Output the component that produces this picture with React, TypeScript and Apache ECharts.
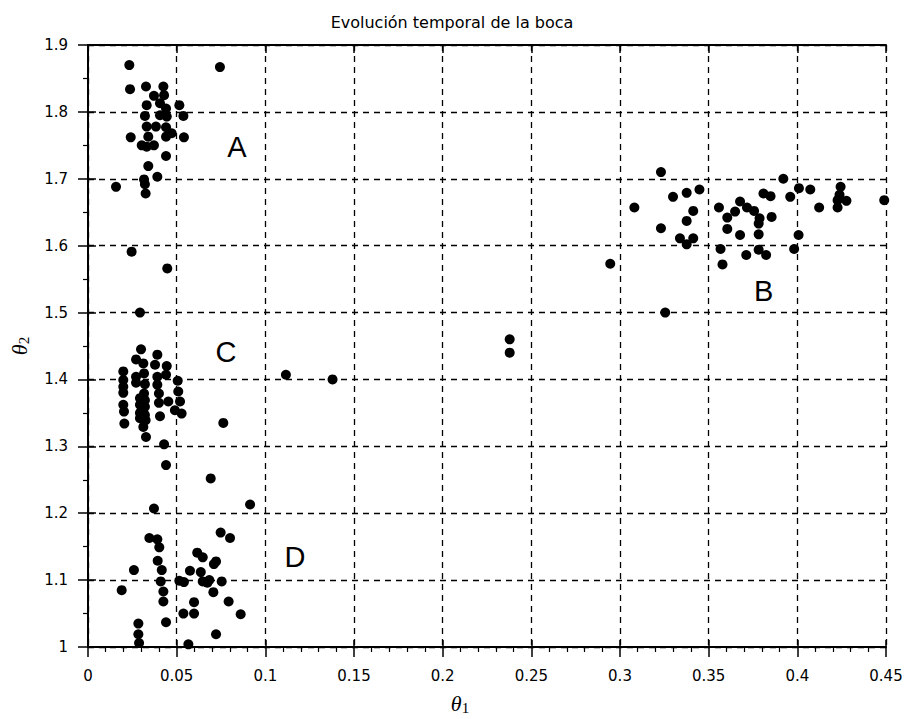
import React, { useEffect, useRef } from "react";
import * as echarts from "echarts";

const titleText = "Evolución temporal de la boca";
const xTicks = [0, 0.05, 0.1, 0.15, 0.2, 0.25, 0.3, 0.35, 0.4, 0.45];
const yTicks = [1, 1.1, 1.2, 1.3, 1.4, 1.5, 1.6, 1.7, 1.8, 1.9];

const clusterA: [number, number][] = [
  [0.0233, 1.870], [0.0744, 1.867], [0.0237, 1.834], [0.0327, 1.838], [0.0425, 1.838],
  [0.0372, 1.824], [0.0429, 1.825], [0.0331, 1.810], [0.0406, 1.813], [0.044, 1.805],
  [0.0515, 1.810], [0.0321, 1.794], [0.0406, 1.795], [0.0444, 1.793], [0.0538, 1.794],
  [0.0331, 1.778], [0.0383, 1.778], [0.044, 1.777], [0.0241, 1.762], [0.034, 1.763],
  [0.044, 1.763], [0.0472, 1.768], [0.0541, 1.762], [0.0303, 1.750], [0.0331, 1.748],
  [0.0372, 1.750], [0.044, 1.734], [0.034, 1.719], [0.0316, 1.699], [0.0391, 1.703],
  [0.0158, 1.688], [0.0321, 1.692], [0.0325, 1.678],
];

const clusterB: [number, number][] = [
  [0.3231, 1.710], [0.3921, 1.700], [0.3299, 1.673], [0.3376, 1.679], [0.3448, 1.684],
  [0.3081, 1.657], [0.3413, 1.652], [0.3376, 1.637], [0.3231, 1.626], [0.3338, 1.611],
  [0.3413, 1.611], [0.3376, 1.602], [0.3558, 1.657], [0.3677, 1.666], [0.3649, 1.651],
  [0.3605, 1.642], [0.3716, 1.657], [0.3756, 1.652], [0.3787, 1.641], [0.3782, 1.633],
  [0.3855, 1.643], [0.3809, 1.678], [0.3849, 1.674], [0.3605, 1.625], [0.3677, 1.616],
  [0.3782, 1.617], [0.3567, 1.595], [0.3578, 1.572], [0.3712, 1.586], [0.3782, 1.594],
  [0.3824, 1.586], [0.396, 1.673], [0.4009, 1.686], [0.4073, 1.684], [0.4007, 1.616],
  [0.3982, 1.595], [0.4123, 1.657], [0.4244, 1.688], [0.4238, 1.676], [0.4227, 1.668],
  [0.4227, 1.657], [0.4277, 1.667], [0.449, 1.668],
];

const clusterC: [number, number][] = [
  [0.0246, 1.591], [0.0447, 1.566], [0.0293, 1.500], [0.0299, 1.445], [0.0271, 1.430],
  [0.0391, 1.437], [0.0312, 1.424], [0.0378, 1.422], [0.0444, 1.420], [0.0199, 1.412],
  [0.044, 1.407], [0.0271, 1.404], [0.0316, 1.409], [0.0391, 1.404], [0.0506, 1.398],
  [0.0199, 1.399], [0.0271, 1.395], [0.0321, 1.393], [0.0199, 1.389], [0.0391, 1.392],
  [0.0199, 1.380], [0.0316, 1.379], [0.04, 1.379], [0.0509, 1.382], [0.0293, 1.372],
  [0.0321, 1.369], [0.04, 1.365], [0.0453, 1.367], [0.0519, 1.367], [0.0199, 1.362],
  [0.0293, 1.362], [0.0321, 1.359], [0.0203, 1.352], [0.0293, 1.350], [0.049, 1.354],
  [0.0528, 1.349], [0.0321, 1.347], [0.0406, 1.345], [0.0293, 1.342], [0.0325, 1.339],
  [0.0205, 1.334], [0.0763, 1.335], [0.0312, 1.329], [0.0327, 1.314], [0.0429, 1.303],
  [0.044, 1.272],
];

const clusterD: [number, number][] = [
  [0.0692, 1.252], [0.0372, 1.207], [0.0914, 1.213], [0.0346, 1.163], [0.0391, 1.161],
  [0.0402, 1.149], [0.0748, 1.171], [0.0801, 1.163], [0.0616, 1.141], [0.0647, 1.134],
  [0.0722, 1.128], [0.071, 1.124], [0.0259, 1.115], [0.0393, 1.129], [0.0416, 1.115],
  [0.0575, 1.114], [0.0636, 1.112], [0.041, 1.098], [0.0515, 1.099], [0.0541, 1.097],
  [0.0647, 1.098], [0.0673, 1.096], [0.0684, 1.100], [0.0754, 1.098], [0.019, 1.085],
  [0.0425, 1.083], [0.0707, 1.082], [0.0425, 1.068], [0.0598, 1.067], [0.0793, 1.068],
  [0.0538, 1.050], [0.0598, 1.050], [0.0861, 1.049], [0.044, 1.037], [0.0284, 1.035],
  [0.0284, 1.019], [0.0722, 1.019], [0.0288, 1.006], [0.0566, 1.004],
];

const transitions: [number, number][] = [
  [0.2945, 1.573], [0.3255, 1.500], [0.2378, 1.460], [0.2378, 1.440],
  [0.1116, 1.407], [0.1379, 1.400],
];

const groupLabels: { name: string; value: [number, number] }[] = [
  { name: "A", value: [0.084, 1.7475] },
  { name: "B", value: [0.381, 1.532] },
  { name: "C", value: [0.0778, 1.441] },
  { name: "D", value: [0.1167, 1.1345] },
];

const FONT = "DejaVu Sans";

export default function App() {
  const ref = useRef<HTMLDivElement>(null);
  useEffect(() => {
    if (!ref.current) return;
    const chart = echarts.init(ref.current, null, { renderer: "svg" });
    const xMin = xTicks[0], xMax = xTicks[xTicks.length - 1];
    const yMin = yTicks[0], yMax = yTicks[yTicks.length - 1];
    const xInt = 0.05, yInt = 0.1;
    const fmt = (v: number) => String(parseFloat(v.toFixed(2)));
    const base = { type: "value" as const };
    const xBase = { ...base, min: xMin, max: xMax, interval: xInt };
    const yBase = { ...base, min: yMin, max: yMax, interval: yInt };
    const lineStyle = { color: "#000", width: 2 };
    const dotStyle = { color: "#000", opacity: 1 };
    const pointSeries = (data: [number, number][], name: string) => ({
      type: "scatter",
      name,
      data,
      symbol: "circle",
      symbolSize: 10,
      itemStyle: dotStyle,
      clip: true,
      xAxisIndex: 0,
      yAxisIndex: 0,
      silent: true,
    });
    const nameRich = {
      t: { fontFamily: "Liberation Serif", fontStyle: "italic", fontSize: 22, color: "#000" },
      s: { fontFamily: "Liberation Serif", fontSize: 15, color: "#000", verticalAlign: "bottom", padding: [8, 0, 0, 0] },
    };
    chart.setOption({
      animation: false,
      backgroundColor: "#fff",
      title: {
        text: titleText,
        left: "center",
        top: 9,
        textStyle: { fontFamily: FONT, fontSize: 16, fontWeight: "normal", color: "#000" },
      },
      grid: { left: 88, top: 45, width: 798, height: 602, containLabel: false, outerBoundsMode: "none" },
      xAxis: [
        {
          ...xBase,
          position: "bottom",
          axisLine: { lineStyle },
          axisTick: { show: true, inside: false, length: 10, lineStyle: { color: "#000", width: 1.5 } },
          minorTick: { show: true, splitNumber: 5, length: 5, lineStyle: { color: "#000", width: 1.2 } },
          axisLabel: { formatter: fmt, fontFamily: FONT, fontSize: 15, color: "#000", margin: 21 },
          splitLine: { show: true, lineStyle: { color: "#000", width: 1.3, type: [6, 5] } },
          name: "{t|θ}{s|1}",
          nameLocation: "middle",
          nameGap: 45,
          nameTextStyle: { rich: nameRich, padding: [0, 54, 0, 0] },
        },
        {
          ...xBase,
          position: "bottom",
          axisLine: { show: false },
          axisTick: { show: true, inside: true, length: 7, lineStyle: { color: "#000", width: 1.5 } },
          axisLabel: { show: false },
          splitLine: { show: false },
        },
        {
          ...xBase,
          position: "top",
          axisLine: { lineStyle },
          axisTick: { show: true, inside: true, length: 8, lineStyle: { color: "#000", width: 1.5 } },
          axisLabel: { show: false },
          splitLine: { show: false },
        },
      ],
      yAxis: [
        {
          ...yBase,
          position: "left",
          axisLine: { lineStyle },
          axisTick: { show: true, inside: false, length: 10, lineStyle: { color: "#000", width: 1.5 } },
          minorTick: { show: true, splitNumber: 2, length: 5, lineStyle: { color: "#000", width: 1.2 } },
          axisLabel: { formatter: fmt, fontFamily: FONT, fontSize: 15, color: "#000", margin: 20 },
          splitLine: { show: true, lineStyle: { color: "#000", width: 1.3, type: [6, 5] } },
          name: "{t|θ}{s|2}",
          nameLocation: "middle",
          nameGap: 57,
          nameRotate: 90,
          nameTextStyle: { rich: nameRich },
        },
        {
          ...yBase,
          position: "left",
          axisLine: { show: false },
          axisTick: { show: true, inside: true, length: 8, lineStyle: { color: "#000", width: 1.5 } },
          axisLabel: { show: false },
          splitLine: { show: false },
        },
        {
          ...yBase,
          position: "right",
          axisLine: { lineStyle },
          axisTick: { show: false },
          axisLabel: { show: false },
          splitLine: { show: false },
        },
      ],
      series: [
        pointSeries(clusterA, "A"),
        pointSeries(clusterB, "B"),
        pointSeries(clusterC, "C"),
        pointSeries(clusterD, "D"),
        pointSeries(transitions, "T"),
        {
          type: "scatter",
          name: "labels",
          data: groupLabels,
          symbolSize: 0,
          itemStyle: { color: "#000", opacity: 1 },
          xAxisIndex: 0,
          yAxisIndex: 0,
          silent: true,
          label: {
            show: true,
            position: "inside",
            formatter: (p: any) => p.name,
            fontFamily: "Liberation Sans",
            fontSize: 29,
            color: "#000",
            opacity: 1,
          },
        },
      ],
    });
    return () => chart.dispose();
  }, []);
  return <div ref={ref} style={{ position: "absolute", left: 0, top: 0, width: 904, height: 719 }} />;
}
